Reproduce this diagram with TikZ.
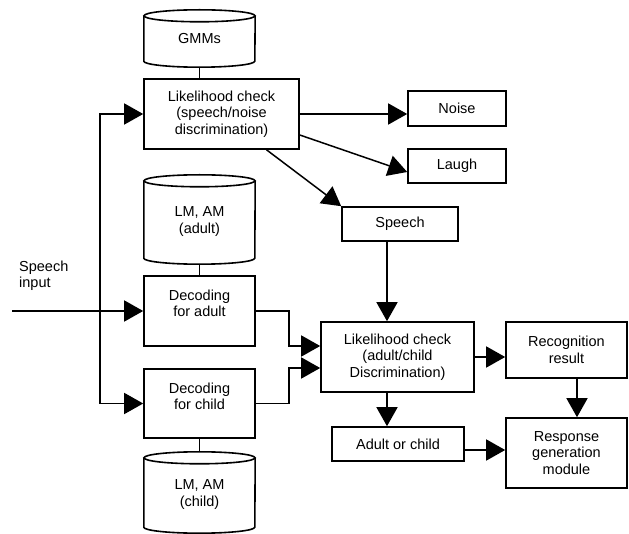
\documentclass[tikz,border=0pt]{standalone}
\usepackage{fontspec}
\setmainfont{Liberation Sans}
\usetikzlibrary{arrows.meta}
\begin{document}
\begin{tikzpicture}[x=1pt,y=-1pt,
  font=\fontsize{14.5}{16.5}\selectfont,
  every node/.style={inner sep=0pt, align=center},
  box/.style={draw, line width=1.6pt, minimum width=#1},
  cylbox/.style={minimum width=111pt},
  lbl/.style={align=center},
  ln/.style={line width=1.5pt},
  arr/.style={ln, -{Triangle[length=19pt,width=21pt]}}
]
\useasboundingbox (0,0) rectangle (629,534);

% cylinders
\newcommand{\drawcyl}[1]{%
  \draw[line width=1.6pt] ([yshift=-6pt]#1.north west) -- ([yshift=6pt]#1.south west)
    arc[start angle=180,end angle=360,x radius=55.5pt,y radius=6pt]
    -- ([yshift=-6pt]#1.north east);
  \draw[line width=1.6pt] ([yshift=-6pt]#1.north) ellipse [x radius=55.5pt, y radius=6pt];}

\node[cylbox, minimum height=57pt] (gmm) at (199.5,38.5) {GMMs};
\drawcyl{gmm}
\node[cylbox, minimum height=89pt] (lma) at (199.5,219.5) {};
\node[lbl] (lmaT) at (199.5,221.5) {LM, AM\\(adult)};
\drawcyl{lma}
\node[cylbox, minimum height=81pt] (lmc) at (199.5,492.5) {};
\node[lbl] (lmcT) at (199.5,494.5) {LM, AM\\(child)};
\drawcyl{lmc}

% boxes
\node[box=155pt, minimum height=70pt] (lc1) at (221.5,114) {Likelihood check\\(speech/noise\\discrimination)};
\node[box=98pt, minimum height=35pt] (noise) at (457,108.5) {Noise};
\node[box=98pt, minimum height=34pt] (laugh) at (457,166) {Laugh};
\node[box=116pt, minimum height=34pt] (speech) at (400,224) {Speech};
\node[box=111pt, minimum height=70pt] (decA) at (199.5,311) {};
\node[lbl] (decAT) at (199.5,303.5) {Decoding\\for adult};
\node[box=111pt, minimum height=69pt] (decC) at (199.5,403.5) {};
\node[lbl] (decCT) at (199.5,396.5) {Decoding\\for child};
\node[box=153pt, minimum height=70pt] (lc2) at (397.5,357) {Likelihood check\\(adult/child\\Discrimination)};
\node[box=121pt, minimum height=56pt] (rec) at (566.5,350) {Recognition\\result};
\node[box=121pt, minimum height=70pt] (resp) at (566.5,453) {Response\\generation\\module};
\node[box=132pt, minimum height=34pt] (aoc) at (398,444) {Adult or child};

\node[align=left, anchor=west] (sin) at (19,276) {Speech\\input};

% connectors
\coordinate (in) at (12,311);
\coordinate (j) at (100,311);
\draw[arr] (in) -- (decA.west);
\draw[arr] (j) |- (lc1.west);
\draw[arr] (j) |- (decC.west);

\draw[ln] (gmm.south) -- (gmm.south |- lc1.north);
\draw[ln] (lma.south) -- (decA.north);
\draw[ln] (decC.south) -- (lmc.north);

\draw[arr] (lc1.east) -- (lc1.east -| noise.west);
\draw[arr] ([yshift=-21pt]lc1.east) -- ([yshift=-6pt]laugh.west);
\draw[arr] ([xshift=45pt]lc1.south) -- (speech.north west);
\draw[arr] ([xshift=-13pt]speech.south) -- ([xshift=-13pt]speech.south |- lc2.north);

\draw[arr] (decA.east) -- ++(33,0) |- ([yshift=11pt]lc2.west);
\draw[arr] (decC.east) -- ++(33,0) |- ([yshift=-11pt]lc2.west);

\draw[arr] (lc2.east) -- (lc2.east -| rec.west);
\draw[arr] ([xshift=10.5pt]rec.south) -- ([xshift=10.5pt]rec.south |- resp.north);
\draw[arr] ([xshift=-10.5pt]lc2.south) -- ([xshift=-10.5pt]lc2.south |- aoc.north);
\draw[arr] ([yshift=-6pt]aoc.east) -- ([yshift=-6pt]aoc.east -| resp.west);
\end{tikzpicture}
\end{document}
